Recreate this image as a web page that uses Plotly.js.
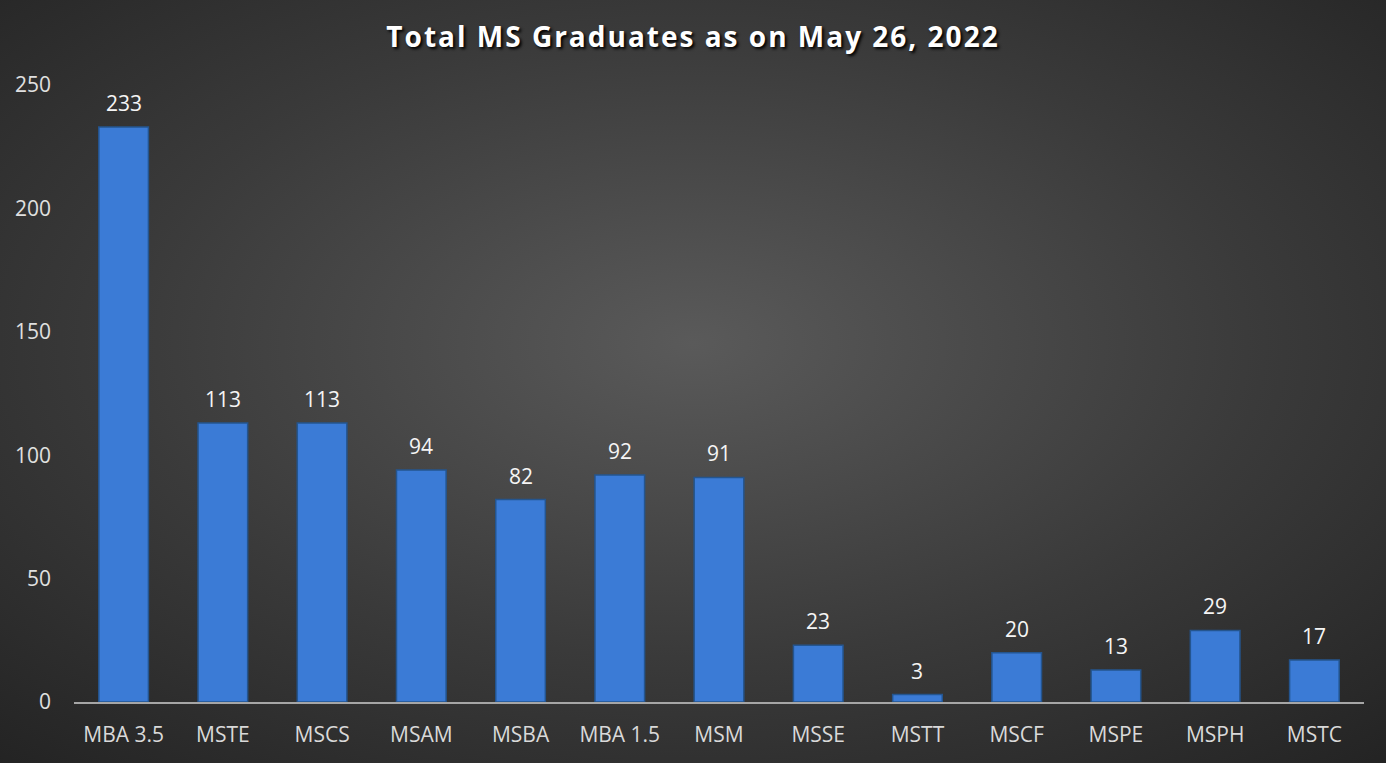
<!DOCTYPE html>
<html>
<head>
<meta charset="utf-8">
<script src="https://cdn.plot.ly/plotly-3.0.1.min.js"></script>
<style>
html,body{margin:0;padding:0;width:1386px;height:763px;overflow:hidden;}
body{background:radial-gradient(ellipse 75% 75% at 50% 45%, #5a5a5a 0%, #3a3a3a 55%, #232323 100%);}
#chart{width:1386px;height:763px;}
.gtitle{letter-spacing:2px;}
</style>
</head>
<body>
<div id="chart"></div>
<script>
const categories = ["MBA 3.5","MSTE","MSCS","MSAM","MSBA","MBA 1.5","MSM","MSSE","MSTT","MSCF","MSPE","MSPH","MSTC"];
const graduates = [233,113,113,94,82,92,91,23,3,20,13,29,17];
const titleText = "Total MS Graduates as on May 26, 2022";

const trace = {
  type: "bar",
  x: categories,
  y: graduates,
  marker: {color: "#3b7bd6", line: {color: "#24558f", width: 1.5}},
  hoverinfo: "x+y"
};

const labelAnnotations = categories.map((c, i) => ({
  x: c, y: graduates[i], xref: "x", yref: "y",
  text: String(graduates[i]),
  showarrow: false, yanchor: "bottom", yshift: 8,
  font: {family: "Open Sans, sans-serif", size: 21, color: "#f5f5f5"}
}));

const layout = {
  width: 1386, height: 763,
  paper_bgcolor: "rgba(0,0,0,0)",
  plot_bgcolor: "rgba(0,0,0,0)",
  margin: {l: 74, r: 22, t: 85, b: 61},
  bargap: 0.5,
  showlegend: false,
  annotations: labelAnnotations,
  title: {
    text: titleText,
    x: 0.5, xanchor: "center",
    y: 0.951, yanchor: "middle", yref: "container",
    font: {family: "Open Sans, sans-serif", size: 28, weight: 700, color: "#ffffff", shadow: "2px 2px 3px #000"}
  },
  xaxis: {
    type: "category",
    showline: true, linecolor: "#a6a6a6", linewidth: 2,
    showgrid: false, zeroline: false, ticks: "",
    tickfont: {family: "Open Sans, sans-serif", size: 21, color: "#d9d9d9"},
    ticklabelstandoff: 13
  },
  yaxis: {
    range: [0, 250], tickvals: [0,50,100,150,200,250],
    showline: false, showgrid: false, zeroline: false, ticks: "",
    tickfont: {family: "Open Sans, sans-serif", size: 21, color: "#e0e0e0"},
    ticklabelstandoff: 22
  }
};

Plotly.newPlot("chart", [trace], layout, {displayModeBar: false, staticPlot: true});
</script>
</body>
</html>
